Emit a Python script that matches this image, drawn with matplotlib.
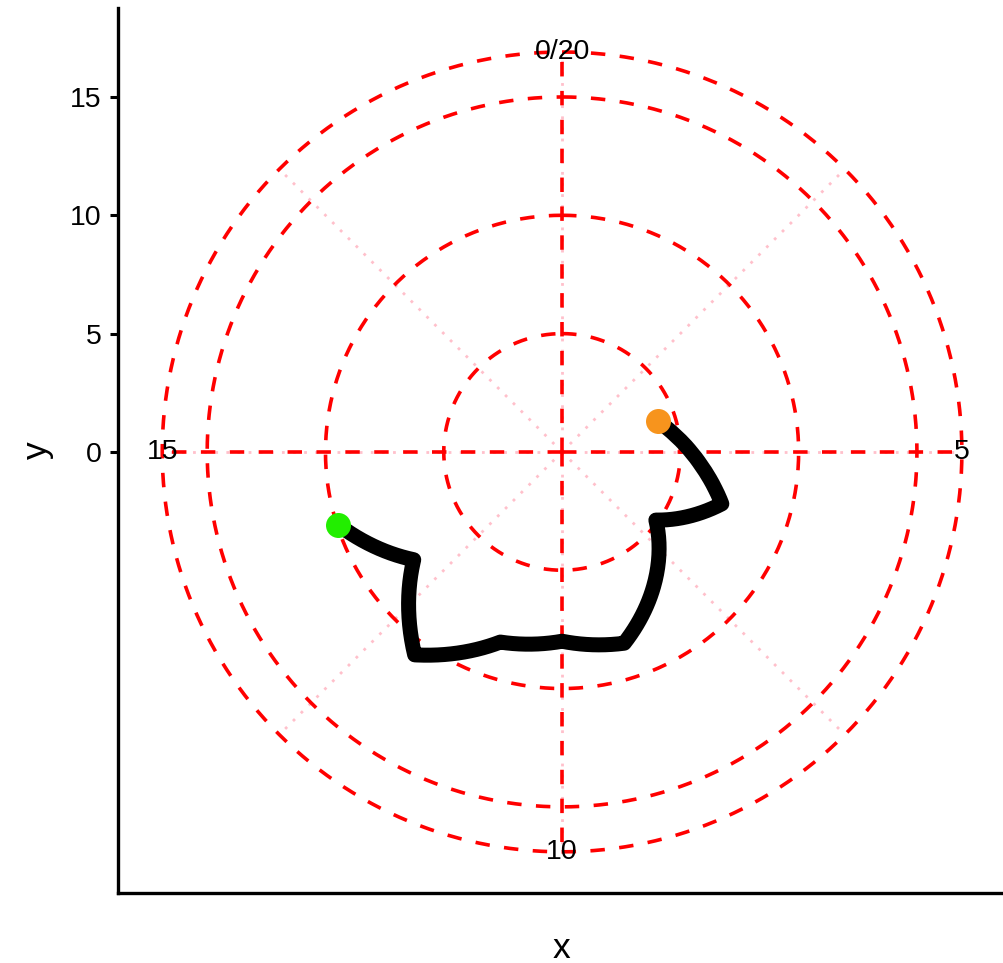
import numpy as np
import matplotlib
matplotlib.use("Agg")
import matplotlib.pyplot as plt

plt.rcParams['font.family'] = ['Liberation Sans', 'DejaVu Sans']

# polar path: theta in [0, 20) clockwise from top, radius
theta = [4, 4.25, 4.5, 4.75, 5, 5.25, 5.5, 5.75, 6, 7, 8, 9, 10, 11, 12, 13, 14]
radius = [4.25, 4.51, 4.79, 5.11, 5.45, 5.82, 6.22, 6.65, 7.1,
          4.9, 6.7, 8.5, 8.0, 8.45, 10.6, 7.75, 9.95]

grid_radii = [5, 10, 15, 16.9]
major_theta = [0, 5, 10, 15]
minor_theta = [0, 2.5, 5, 7.5, 10, 12.5, 15, 17.5]
theta_labels = ["0/20", "5", "10", "15"]
y_ticks = [0, 5, 10, 15]
r_outer = 16.9
period = 20.0


def to_xy(t, r):
    a = 2 * np.pi * np.asarray(t) / period
    return np.asarray(r) * np.sin(a), np.asarray(r) * np.cos(a)


fig = plt.figure(figsize=(10.04, 9.63), dpi=100)
ax = fig.add_axes([118 / 1004, 70 / 963, 886 / 1004, 885 / 963])

# minor spokes (pink dotted)
for t in minor_theta:
    x, y = to_xy([t, t], [0, r_outer])
    ax.plot(x, y, color="#FFC0CB", lw=2.0, dashes=(1, 3), zorder=1)

# major spokes (red dashed)
for t in major_theta:
    x, y = to_xy([t, t], [0, r_outer])
    ax.plot(x, y, color="#FF0000", lw=2.6, dashes=(4, 4), zorder=2)

# grid circles
ang = np.linspace(0, period, 721)
for rr in grid_radii:
    x, y = to_xy(ang, np.full_like(ang, rr))
    ax.plot(x, y, color="#FF0000", lw=2.6, dashes=(4, 4), zorder=2)

# theta labels
for t, lab in zip(major_theta, theta_labels):
    x, y = to_xy(t, r_outer)
    ax.text(x, y, lab, ha="center", va="center", fontsize=20.5, zorder=3)

# path, interpolated linearly in (theta, r) like a polar line
tt, rr = [], []
for i in range(len(theta) - 1):
    s = np.linspace(0, 1, 40, endpoint=False)
    tt.extend(theta[i] + s * (theta[i + 1] - theta[i]))
    rr.extend(radius[i] + s * (radius[i + 1] - radius[i]))
tt.append(theta[-1])
rr.append(radius[-1])
px, py = to_xy(tt, rr)
ax.plot(px, py, color="black", lw=10.8, solid_joinstyle="round",
        solid_capstyle="butt", zorder=4)

sx, sy = to_xy(theta[0], radius[0])
ex, ey = to_xy(theta[-1], radius[-1])
ax.plot(sx, sy, "o", color="#F7941D", ms=18, mew=0, zorder=5)
ax.plot(ex, ey, "o", color="#22EE00", ms=18, mew=0, zorder=5)

ax.set_xlim(-18.77, 18.68)
ax.set_ylim(-18.64, 18.76)
ax.set_yticks(y_ticks)
ax.set_xticks([])
ax.tick_params(axis="y", labelsize=20.5, width=2.2, length=6, pad=6)
for side in ["top", "right"]:
    ax.spines[side].set_visible(False)
for side in ["left", "bottom"]:
    ax.spines[side].set_linewidth(2.4)
ax.set_xlabel("x", fontsize=25.5, labelpad=28)
ax.set_ylabel("y", fontsize=25.5, labelpad=11)

fig.savefig("out.png", dpi=100)
